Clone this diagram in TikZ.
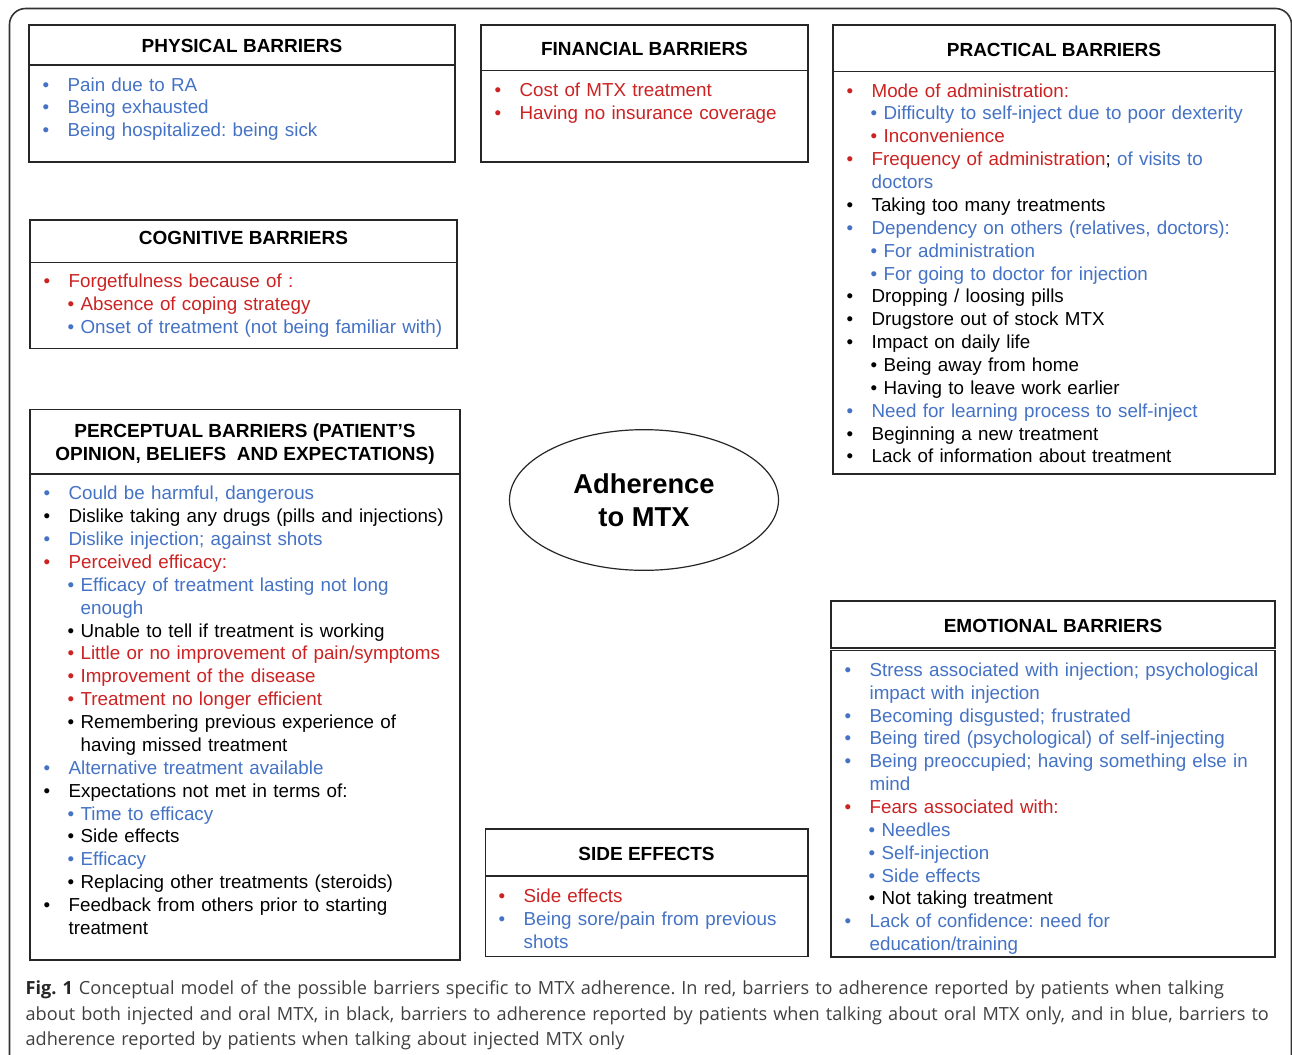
\documentclass[tikz,border=0pt]{standalone}
\usepackage{fontspec}
\setmainfont{Liberation Sans}
\newfontfamily\capfont{Open Sans}
\usetikzlibrary{shapes.geometric}
\usepackage{xcolor}
\definecolor{injblue}{RGB}{68,114,196}
\definecolor{bothred}{RGB}{204,34,34}
\definecolor{capgray}{RGB}{64,64,64}
\setlength\parindent{0pt}
\frenchspacing
% list lines: main bullet, sub bullet, continuation lines
\newcommand\itm[2]{\strut{\color{#1}\makebox[18.75pt][l]{\textbullet}#2}}
\newcommand\subitm[2]{\strut\hspace*{18pt}{\color{#1}\makebox[9.75pt][l]{\textbullet}#2}}
\newcommand\contline[2]{\strut\hspace*{18.75pt}{\color{#1}#2}}
\newcommand\subcont[2]{\strut\hspace*{27.75pt}{\color{#1}#2}}

\begin{document}
\begin{tikzpicture}[x=0.75pt,y=-0.75pt,line width=0.9pt,
  box/.style={draw=black!85},
  head/.style={font=\fontsize{14.25}{17.15}\selectfont\bfseries,inner sep=0pt,anchor=base},
  body/.style={font=\fontsize{14.1}{17.15}\selectfont,inner sep=0pt,anchor=north west,align=left,text width=#1}]
\useasboundingbox (0,0) rectangle (1292,1054);
% outer frame
\draw[black!80,line width=1.2pt,rounded corners=12] (9.5,1070) -- (9.5,8.5) -- (1291.5,8.5) -- (1291.5,1070);

% physical
\draw[box] (29,25) rectangle (455,162);
\draw[box] (29,65) -- (455,65);
\node[head] (phys-h) at (242,52.7) {PHYSICAL BARRIERS};
\node[body=300pt] (phys-b) at (42,74.5) {%
\itm{injblue}{Pain due to RA}\\
\itm{injblue}{Being exhausted}\\
\itm{injblue}{Being hospitalized: being sick}};

% financial
\draw[box] (481,25) rectangle (808,162);
\draw[box] (481,70.5) -- (808,70.5);
\node[head] (fin-h) at (644.5,55) {FINANCIAL BARRIERS};
\node[body=230pt] (fin-b) at (494,80) {%
\itm{bothred}{Cost of MTX treatment}\\
\itm{bothred}{Having no insurance coverage}};

% practical
\draw[box] (833,25) rectangle (1275,474);
\draw[box] (833,71.5) -- (1275,71.5);
\node[head] (prac-h) at (1054,56) {PRACTICAL BARRIERS};
\node[body=320pt] (prac-b) at (846,80.5) {%
\itm{bothred}{Mode of administration:}\\
\subitm{injblue}{Difficulty to self-inject due to poor dexterity}\\
\subitm{bothred}{Inconvenience}\\
\itm{bothred}{Frequency of administration{\color{black};} {\color{injblue}of visits to}}\\
\contline{injblue}{doctors}\\
\itm{black}{Taking too many treatments}\\
\itm{injblue}{Dependency on others (relatives, doctors):}\\
\subitm{injblue}{For administration}\\
\subitm{injblue}{For going to doctor for injection}\\
\itm{black}{Dropping / loosing pills}\\
\itm{black}{Drugstore out of stock MTX}\\
\itm{black}{Impact on daily life}\\
\subitm{black}{Being away from home}\\
\subitm{black}{Having to leave work earlier}\\
\itm{injblue}{Need for learning process to self-inject}\\
\itm{black}{Beginning a new treatment}\\
\itm{black}{Lack of information about treatment}};

% cognitive
\draw[box] (30,220) rectangle (457,348.5);
\draw[box] (30,262.3) -- (457,262.3);
\node[head] (cog-h) at (243.5,244.3) {COGNITIVE BARRIERS};
\node[body=310pt] (cog-b) at (43,271.3) {%
\itm{bothred}{Forgetfulness because of :}\\
\subitm{bothred}{Absence of coping strategy}\\
\subitm{injblue}{Onset of treatment (not being familiar with)}};

% perceptual
\draw[box] (30,409.3) rectangle (460,960);
\draw[box] (30,474) -- (460,474);
\node[head,anchor=north,align=center] (perc-h) at (245,421.3) {\strut PERCEPTUAL BARRIERS (PATIENT’S\\\strut OPINION, BELIEFS\ \ AND EXPECTATIONS)};
\node[body=310pt] (perc-b) at (43,483.3) {%
\itm{injblue}{Could be harmful, dangerous}\\
\itm{black}{Dislike taking any drugs (pills and injections)}\\
\itm{injblue}{Dislike injection; against shots}\\
\itm{bothred}{Perceived efficacy:}\\
\subitm{injblue}{Efficacy of treatment lasting not long}\\
\subcont{injblue}{enough}\\
\subitm{black}{Unable to tell if treatment is working}\\
\subitm{bothred}{Little or no improvement of pain/symptoms}\\
\subitm{bothred}{Improvement of the disease}\\
\subitm{bothred}{Treatment no longer efficient}\\
\subitm{black}{Remembering previous experience of}\\
\subcont{black}{having missed treatment}\\
\itm{injblue}{Alternative treatment available}\\
\itm{black}{Expectations not met in terms of:}\\
\subitm{injblue}{Time to efficacy}\\
\subitm{black}{Side effects}\\
\subitm{injblue}{Efficacy}\\
\subitm{black}{Replacing other treatments (steroids)}\\
\itm{black}{Feedback from others prior to starting}\\
\contline{black}{treatment}};

% centre
\node[ellipse,draw=black!85,minimum width=201.75pt,minimum height=105.5pt,inner sep=0pt,
  align=center,font=\fontsize{20.5}{24.5}\selectfont\bfseries] (adh) at (644,500) {Adherence\\to MTX};

% side effects
\draw[box] (485.5,829) rectangle (808,956.5);
\draw[box] (485.5,876) -- (808,876);
\node[head] (side-h) at (646.5,860) {SIDE EFFECTS};
\node[body=230pt] (side-b) at (498,885.7) {%
\itm{bothred}{Side effects}\\
\itm{injblue}{Being sore/pain from previous}\\
\contline{injblue}{shots}};

% emotional
\draw[box] (831,601) rectangle (1275,648);
\draw[box] (831,650.5) rectangle (1275,957);
\node[head] (emo-h) at (1053,632.7) {EMOTIONAL BARRIERS};
\node[body=320pt] (emo-b) at (844,659.7) {%
\itm{injblue}{Stress associated with injection; psychological}\\
\contline{injblue}{impact with injection}\\
\itm{injblue}{Becoming disgusted; frustrated}\\
\itm{injblue}{Being tired (psychological) of self-injecting}\\
\itm{injblue}{Being preoccupied; having something else in}\\
\contline{injblue}{mind}\\
\itm{bothred}{Fears associated with:}\\
\subitm{injblue}{Needles}\\
\subitm{injblue}{Self-injection}\\
\subitm{injblue}{Side effects}\\
\subitm{black}{Not taking treatment}\\
\itm{injblue}{Lack of confidence: need for}\\
\contline{injblue}{education/training}};

% caption
\node[inner sep=0pt,anchor=north west,align=left,text width=1000pt,text=capgray,
  font=\capfont\fontsize{13.6}{19.1}\selectfont] (cap) at (25,976.2) {%
\strut{\bfseries\color{black!85}Fig. 1} Conceptual model of the possible barriers specific to MTX adherence. In red, barriers to adherence reported by patients when talking\\
\strut about both injected and oral MTX, in black, barriers to adherence reported by patients when talking about oral MTX only, and in blue, barriers to\\
\strut adherence reported by patients when talking about injected MTX only};
\end{tikzpicture}
\end{document}
